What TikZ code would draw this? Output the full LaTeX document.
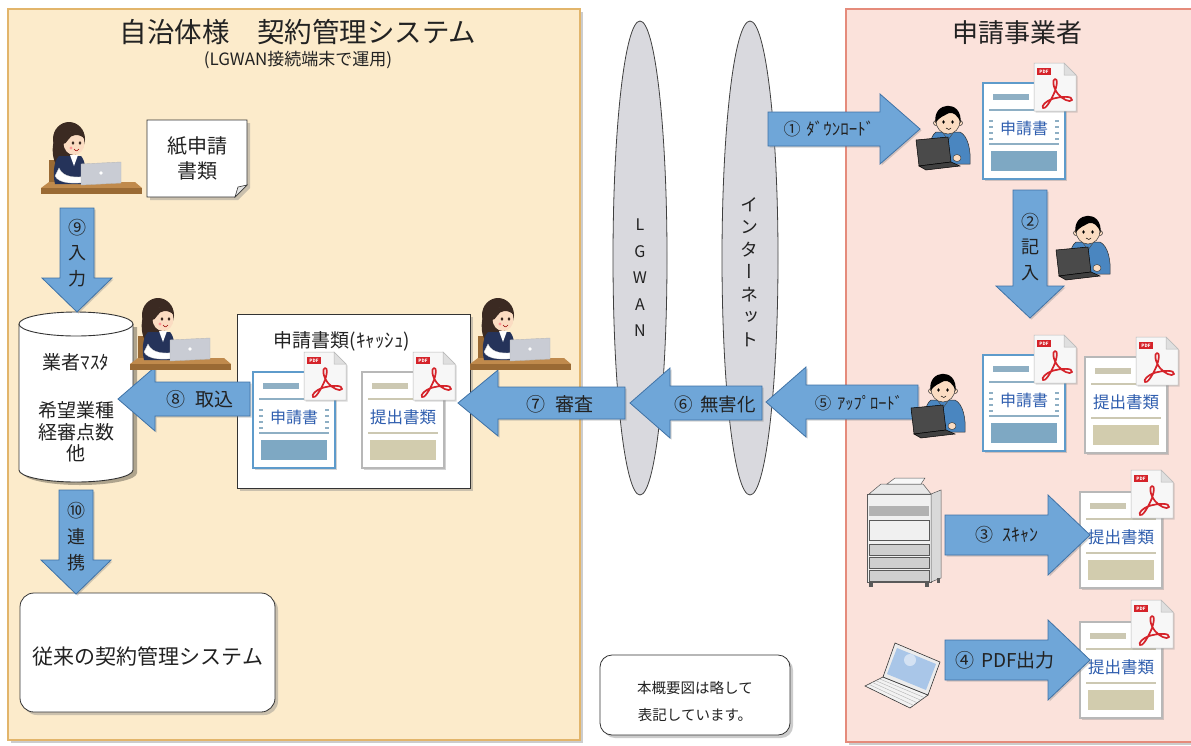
\documentclass[tikz,border=0pt]{standalone}
\usepackage{fontspec}
\setmainfont{Noto Sans CJK JP}
\newfontfamily\vjp[RawFeature=+vert]{Noto Sans CJK JP}
\usetikzlibrary{shadows,calc}

\definecolor{panelL}{HTML}{FCEBCB}
\definecolor{panelLedge}{HTML}{E2B56B}
\definecolor{panelR}{HTML}{FBE2DB}
\definecolor{panelRedge}{HTML}{E58B7B}
\definecolor{netgray}{HTML}{D9D9DE}
\definecolor{arrowfill}{HTML}{6FA6D8}
\definecolor{arrowedge}{HTML}{3F72A6}
\definecolor{ink}{HTML}{222222}
\definecolor{docblue}{HTML}{2E5DAE}
\definecolor{formframe}{HTML}{5E9BCB}
\definecolor{formbar}{HTML}{8EAFC4}
\definecolor{formblock}{HTML}{7EA8C3}
\definecolor{subframe}{HTML}{B8B8B8}
\definecolor{subbar}{HTML}{CCC8B2}
\definecolor{subblock}{HTML}{D2CCAE}
\definecolor{pdfred}{HTML}{D5232A}
\definecolor{skin}{HTML}{FBDCC2}
\definecolor{hairbrown}{HTML}{3B2A22}
\definecolor{vestnavy}{HTML}{25335A}
\definecolor{deskbrown}{HTML}{C08A4C}
\definecolor{deskdark}{HTML}{9A6A34}
\definecolor{lidgray}{HTML}{C9CCD4}
\definecolor{shirtblue}{HTML}{4A86C0}
\definecolor{laptopdark}{HTML}{4A4A4A}
\definecolor{screenblue}{HTML}{A9C6E8}

\newcommand\fsz[2]{\fontsize{#1}{#2}\selectfont}

% block arrows: tail, tip, axis position, body half-width, head half-width, head length
\newcommand\arrowright[6]{\draw[blockarrow] (#1,#3-#4) -- (#2-#6,#3-#4) -- (#2-#6,#3-#5) -- (#2,#3) -- (#2-#6,#3+#5) -- (#2-#6,#3+#4) -- (#1,#3+#4) -- cycle;}
\newcommand\arrowleft[6]{\draw[blockarrow] (#1,#3-#4) -- (#2+#6,#3-#4) -- (#2+#6,#3-#5) -- (#2,#3) -- (#2+#6,#3+#5) -- (#2+#6,#3+#4) -- (#1,#3+#4) -- cycle;}
\newcommand\arrowdown[6]{\draw[blockarrow] (#3-#4,#1) -- (#3-#4,#2-#6) -- (#3-#5,#2-#6) -- (#3,#2) -- (#3+#5,#2-#6) -- (#3+#4,#2-#6) -- (#3+#4,#1) -- cycle;}

% common body of a document sheet (frame, bar colour, block colour)
\newcommand\docbody[3]{%
  \filldraw[draw=#1, line width=1.5pt, fill=white, drop shadow={shadow xshift=2pt, shadow yshift=-2pt, opacity=0.35}] (0,0) rectangle (82,96);
  \fill[#2] (10,11) rectangle (46,17);
  \draw[#2, line width=1.6pt] (6,27) -- (76,27);
  \draw[#2, line width=1.6pt] (6,61) -- (76,61);
  \fill[#3] (8,68) rectangle (74,88);
}

\tikzset{
  blockarrow/.style={fill=arrowfill, draw=arrowedge, line width=0.8pt,
    drop shadow={shadow xshift=1.5pt, shadow yshift=-1.5pt, opacity=0.35}},
  boxshadow/.style={drop shadow={shadow xshift=3pt, shadow yshift=-3pt, opacity=0.4}},
  lbl/.style={text=ink, inner sep=0pt},
  pics/formdoc/.style={code={
    \docbody{formframe}{formbar}{formblock}
    \foreach \yy in {38,44,50,56}{
      \fill[formbar] (6,\yy-1.3) rectangle (10,\yy+1.3);
      \fill[formbar] (72,\yy-1.3) rectangle (76,\yy+1.3);}
    \node[lbl, font=\fsz{16}{16}, text=docblue] (-t) at (41,45) {申請書};
  }},
  pics/subdoc/.style={code={
    \docbody{subframe}{subbar}{subblock}
    \node[lbl, font=\fsz{16.5}{16}, text=docblue] (-t) at (41,45) {提出書類};
  }},
  pics/pdficon/.style={code={
    \filldraw[draw=gray!55, fill=gray!6, line width=0.5pt, drop shadow={shadow xshift=1.5pt, shadow yshift=-1.5pt, opacity=0.3}]
      (0,0) -- (30,0) -- (42,12) -- (42,48) -- (0,48) -- cycle;
    \filldraw[draw=gray!55, fill=gray!25, line width=0.5pt] (30,0) -- (30,12) -- (42,12) -- cycle;
    \fill[pdfred] (3,5) rectangle (17,12);
    \node[inner sep=0pt, text=white, font=\fsz{4.5}{5}\bfseries] (-tag) at (10,8.5) {PDF};
    \draw[pdfred, line width=1.7pt, line join=round, line cap=round]
      (21,16) .. controls (18,16) and (19,25) .. (24,31)
      .. controls (28,36) and (36,40) .. (38,37)
      .. controls (39,33) and (28,33) .. (18,36)
      .. controls (12,38) and (7,43) .. (9,45)
      .. controls (11,47) and (17,38) .. (21,28)
      .. controls (23,22) and (24,16) .. (21,16) -- cycle;
  }},
  pics/clerk/.style={code={
    \fill[deskbrown] (-32,46) -- (-24,40) -- (62,40) -- (69,46) -- cycle;
    \fill[deskdark] (-32,46) rectangle (69,52);
    \fill[deskdark] (-24,18) rectangle (-16,40);
    \fill[hairbrown] (-4,-3) ellipse [x radius=16, y radius=17];
    \fill[hairbrown] (-19,-2) .. controls (-22,10) and (-20,22) .. (-12,28) -- (-4,22) -- (-6,4) -- cycle;
    \fill[vestnavy] (-14,14) .. controls (-20,20) and (-20,34) .. (-18,42) -- (12,42) .. controls (14,30) and (12,18) .. (8,14) -- cycle;
    \fill[white] (-3,13) -- (5,13) -- (1,24) -- cycle;
    \fill[white, draw=gray!40, line width=0.3pt] (-14,26) .. controls (-10,36) and (4,36) .. (14,34) -- (14,40) .. controls (2,42) and (-14,42) .. (-18,34) -- cycle;
    \fill[skin] (15,37) circle (3);
    \fill[lidgray, draw=gray!55, line width=0.4pt] (8,22) -- (48,20) -- (48,41) -- (8,43) -- cycle;
    \fill[white] (28,31) circle (1.8);
    \fill[skin] (1,1) ellipse [x radius=10.5, y radius=12];
    \fill[hairbrown] (-10,2) .. controls (-12,-14) and (10,-16) .. (12,-3) .. controls (6,-9) and (-2,-8) .. (-5,-2) .. controls (-7,0) and (-8,3) .. (-10,2) -- cycle;
    \fill[hairbrown] (0,1) ellipse [x radius=1.4, y radius=1.9];
    \fill[hairbrown] (7,1) ellipse [x radius=1.4, y radius=1.9];
    \fill[red!40] (-2,6) circle (1.6);
    \draw[red!60!black, line width=0.5pt] (1,7) .. controls (3,9.5) and (5,9.5) .. (6,7);
  }},
  pics/worker/.style={code={
    \fill[shirtblue, draw=black!80, line width=0.5pt] (-12,12) .. controls (-18,16) and (-20,30) .. (-19,44) -- (22,44) .. controls (23,30) and (20,16) .. (12,12) -- cycle;
    \draw[black!70, line width=0.5pt] (-5,13) -- (0,20) -- (5,13);
    \fill[skin, draw=black!80, line width=0.5pt] (-12,3) circle (2.5);
    \fill[skin, draw=black!80, line width=0.5pt] (12,3) circle (2.5);
    \fill[skin, draw=black!80, line width=0.5pt] (0,1) ellipse [x radius=12, y radius=13];
    \fill[black] (-12.5,3) .. controls (-16,-19) and (15,-21) .. (12.5,3) .. controls (10,-5) and (5,-8) .. (1,-7) .. controls (-4,-4) and (-9,-3) .. (-12.5,3) -- cycle;
    \fill[black] (-4.5,2) ellipse [x radius=1.3, y radius=1.8];
    \fill[black] (4.5,2) ellipse [x radius=1.3, y radius=1.8];
    \draw[black, line width=0.5pt] (-2,8) .. controls (0,10) and (2,10) .. (3,8);
    \fill[laptopdark, draw=black, line width=0.5pt] (-32,20) -- (0,17) -- (3,42) -- (-29,46) -- cycle;
    \fill[black!75, draw=black, line width=0.5pt] (-29,46) -- (3,42) -- (12,46) -- (-22,50) -- cycle;
    \fill[skin, draw=black!80, line width=0.4pt] (9,38) ellipse [x radius=4, y radius=3.5];
  }},
  pics/copier/.style={code={
    \filldraw[draw=gray!70!black, fill=gray!12, line width=0.5pt] (2,16) rectangle (66,104);
    \filldraw[draw=gray!70!black, fill=gray!30, line width=0.5pt] (66,16) -- (76,12) -- (76,100) -- (66,104) -- cycle;
    \filldraw[draw=gray!70!black, fill=gray!18, line width=0.5pt] (4,16) -- (16,6) -- (58,6) -- (66,16) -- cycle;
    \filldraw[draw=gray!70!black, fill=gray!6, line width=0.5pt] (22,6) -- (30,0) -- (60,0) -- (56,6) -- cycle;
    \fill[gray!60] (4,28) rectangle (64,38);
    \draw[gray!70!black, line width=0.5pt] (4,42) rectangle (64,62);
    \foreach \yy in {66,79,92}{
      \filldraw[draw=gray!70!black, fill=gray!38, line width=0.5pt] (4,\yy) rectangle (64,\yy+11);}
    \fill[gray!70!black] (4,104) rectangle (8,109);
    \fill[gray!70!black] (60,104) rectangle (64,109);
    \fill[gray!70!black] (72,100) rectangle (75,105);
  }},
  pics/notebook/.style={code={
    \filldraw[draw=black!80, fill=gray!10, line width=0.6pt] (25,49) -- (70,67) -- (52,80) -- (7,58) -- cycle;
    \foreach \t in {0.2,0.4,0.6,0.8}{
      \draw[gray!60, line width=0.4pt] ($(25,49)!\t!(7,58)$) -- ($(70,67)!\t!(52,80)$);}
    \filldraw[draw=black!80, fill=gray!15, line width=0.6pt] (37,15) -- (82,34) -- (70,67) -- (25,49) -- cycle;
    \fill[screenblue] (39,20) -- (78,36) -- (68,62) -- (29,46) -- cycle;
    \fill[white, opacity=0.5] (52,32) circle (6);
  }},
}

\begin{document}
\begin{tikzpicture}[x=1pt, y=-1pt]
\useasboundingbox (0,0) rectangle (1191,745);
\fill[white] (0,0) rectangle (1191,745);

% two organisation panels
\filldraw[fill=panelL, draw=panelLedge, line width=1.2pt, boxshadow] (8,9) rectangle (580,740);
\filldraw[fill=panelR, draw=panelRedge, line width=1.2pt, boxshadow] (846,9) rectangle (1200,742);

\node[lbl, font=\fsz{27.5}{32}] (ttlL) at (298,32) {自治体様　契約管理システム};
\node[lbl, font=\fsz{17}{20}] (subL) at (298,60) {(LGWAN接続端末で運用)};
\node[lbl, font=\fsz{26}{30}] (ttlR) at (1017,33) {申請事業者};

% networks
\filldraw[fill=netgray, draw=black!75, line width=0.8pt] (640,258) ellipse [x radius=27, y radius=237];
\filldraw[fill=netgray, draw=black!75, line width=0.8pt] (750,258) ellipse [x radius=28, y radius=237];
\node[lbl, font=\fsz{16}{26.5}, align=center] (lgwan) at (640,278) {L\\G\\W\\A\\N};
\node[lbl, font=\vjp\fsz{18}{22.5}, align=center] (inet) at (749,272) {イ\\ン\\タ\\ー\\ネ\\ッ\\ト};

% paper application
\filldraw[fill=white, draw=black!80, line width=0.8pt, boxshadow] (147,120) -- (247,120) -- (247,185) -- (235,197) -- (147,197) -- cycle;
\filldraw[fill=gray!20, draw=black!80, line width=0.6pt] (247,185) -- (238,187) -- (235,197) -- cycle;
\node[lbl, font=\fsz{20}{25}, align=center] (paper) at (197,158) {紙申請\\書類};

% vendor master database
\fill[black, opacity=0.3] (23,327) -- (23,473) arc[start angle=180, end angle=0, x radius=57, y radius=12] -- (137,327) -- cycle;
\filldraw[fill=white, draw=black!80, line width=0.9pt] (19,324) -- (19,470) arc[start angle=180, end angle=0, x radius=57, y radius=12] -- (133,324);
\filldraw[fill=white, draw=black!80, line width=0.9pt] (76,324) ellipse [x radius=57, y radius=12];
\node[lbl, font=\fsz{19}{22}] (dbname) at (76,362) {業者ﾏｽﾀ};
\node[lbl, font=\fsz{19}{21.5}, align=center] (dbitems) at (76,432) {希望業種\\経審点数\\他};

% cached application documents
\filldraw[fill=white, draw=black!80, line width=0.8pt, boxshadow] (237,314) rectangle (470,488);
\node[lbl, font=\fsz{19}{22}] (cache) at (342,341) {申請書類(ｷｬｯｼｭ)};
\pic (cform) at (253,372) {formdoc};
\pic (cformpdf) at (304,352) {pdficon};
\pic (csub) at (362,372) {subdoc};
\pic (csubpdf) at (413,352) {pdficon};

% legacy system and remark
\filldraw[fill=white, draw=black!80, line width=0.8pt, rounded corners=14pt, boxshadow] (20,593) rectangle (275,712);
\node[lbl, font=\fsz{21}{24}] (legacy) at (148,656) {従来の契約管理システム};
\filldraw[fill=white, draw=black!80, line width=0.8pt, rounded corners=12pt, boxshadow] (600,655) rectangle (790,735);
\node[lbl, font=\fsz{14.5}{27}, align=center] (remark) at (695,701) {本概要図は略して\\表記しています。};

% applicant side documents
\pic (rform) at (983,83) {formdoc};
\pic (rformpdf) at (1034,63) {pdficon};
\pic (uform) at (983,355) {formdoc};
\pic (uformpdf) at (1034,335) {pdficon};
\pic (usub) at (1085,357) {subdoc};
\pic (usubpdf) at (1136,337) {pdficon};
\pic (ssub) at (1080,492) {subdoc};
\pic (ssubpdf) at (1131,470) {pdficon};
\pic (psub) at (1080,622) {subdoc};
\pic (psubpdf) at (1131,600) {pdficon};

% devices
\pic (scanner) at (865,478) {copier};
\pic (pc) at (858,628) {notebook};

% flow arrows
\arrowright{768}{920}{129}{17}{35}{40}
\node[lbl, font=\fsz{17}{18}] (l1) at (829,129) {①\hspace{0.35em}ﾀﾞｳﾝﾛｰﾄﾞ};
\arrowdown{190}{318}{1030}{17}{34}{32}
\node[lbl, font=\fsz{18}{25.5}, align=center] (l2) at (1030,247) {②\\記\\入};
\arrowright{945}{1090}{535}{20}{40}{42}
\node[lbl, font=\fsz{18}{18}] (l3) at (1007,535) {③\hspace{0.45em}ｽｷｬﾝ};
\arrowright{945}{1090}{660}{20}{40}{42}
\node[lbl, font=\fsz{19}{20}] (l4) at (1005,660) {④\hspace{0.35em}PDF出力};
\arrowleft{918}{766}{402}{17}{35}{40}
\node[lbl, font=\fsz{16.5}{18}] (l5) at (859,403) {⑤\hspace{0.35em}ｱｯﾌﾟﾛｰﾄﾞ};
\arrowleft{762}{630}{403}{17}{35}{40}
\node[lbl, font=\fsz{18.5}{20}] (l6) at (715,404) {⑥\hspace{0.4em}無害化};
\arrowleft{625}{458}{403}{16}{33}{40}
\node[lbl, font=\fsz{19}{20}] (l7) at (560,404) {⑦\hspace{0.5em}審査};
\arrowleft{250}{118}{399}{17}{32}{37}
\node[lbl, font=\fsz{19}{20}] (l8) at (200,399) {⑧\hspace{0.5em}取込};
\arrowdown{208}{312}{77}{17}{35}{34}
\node[lbl, font=\fsz{18}{25.5}, align=center] (l9) at (77,253) {⑨\\入\\力};
\arrowdown{490}{594}{76}{17}{35}{34}
\node[lbl, font=\fsz{18}{26}, align=center] (l10) at (76,537) {⑩\\連\\携};

% staff and applicants
\pic (clerkA) at (73,142) {clerk};
\pic (clerkB) at (162,318) {clerk};
\pic (clerkC) at (502,318) {clerk};
\pic (userA) at (948,120) {worker};
\pic (userB) at (1088,230) {worker};
\pic (userC) at (943,388) {worker};
\end{tikzpicture}
\end{document}
